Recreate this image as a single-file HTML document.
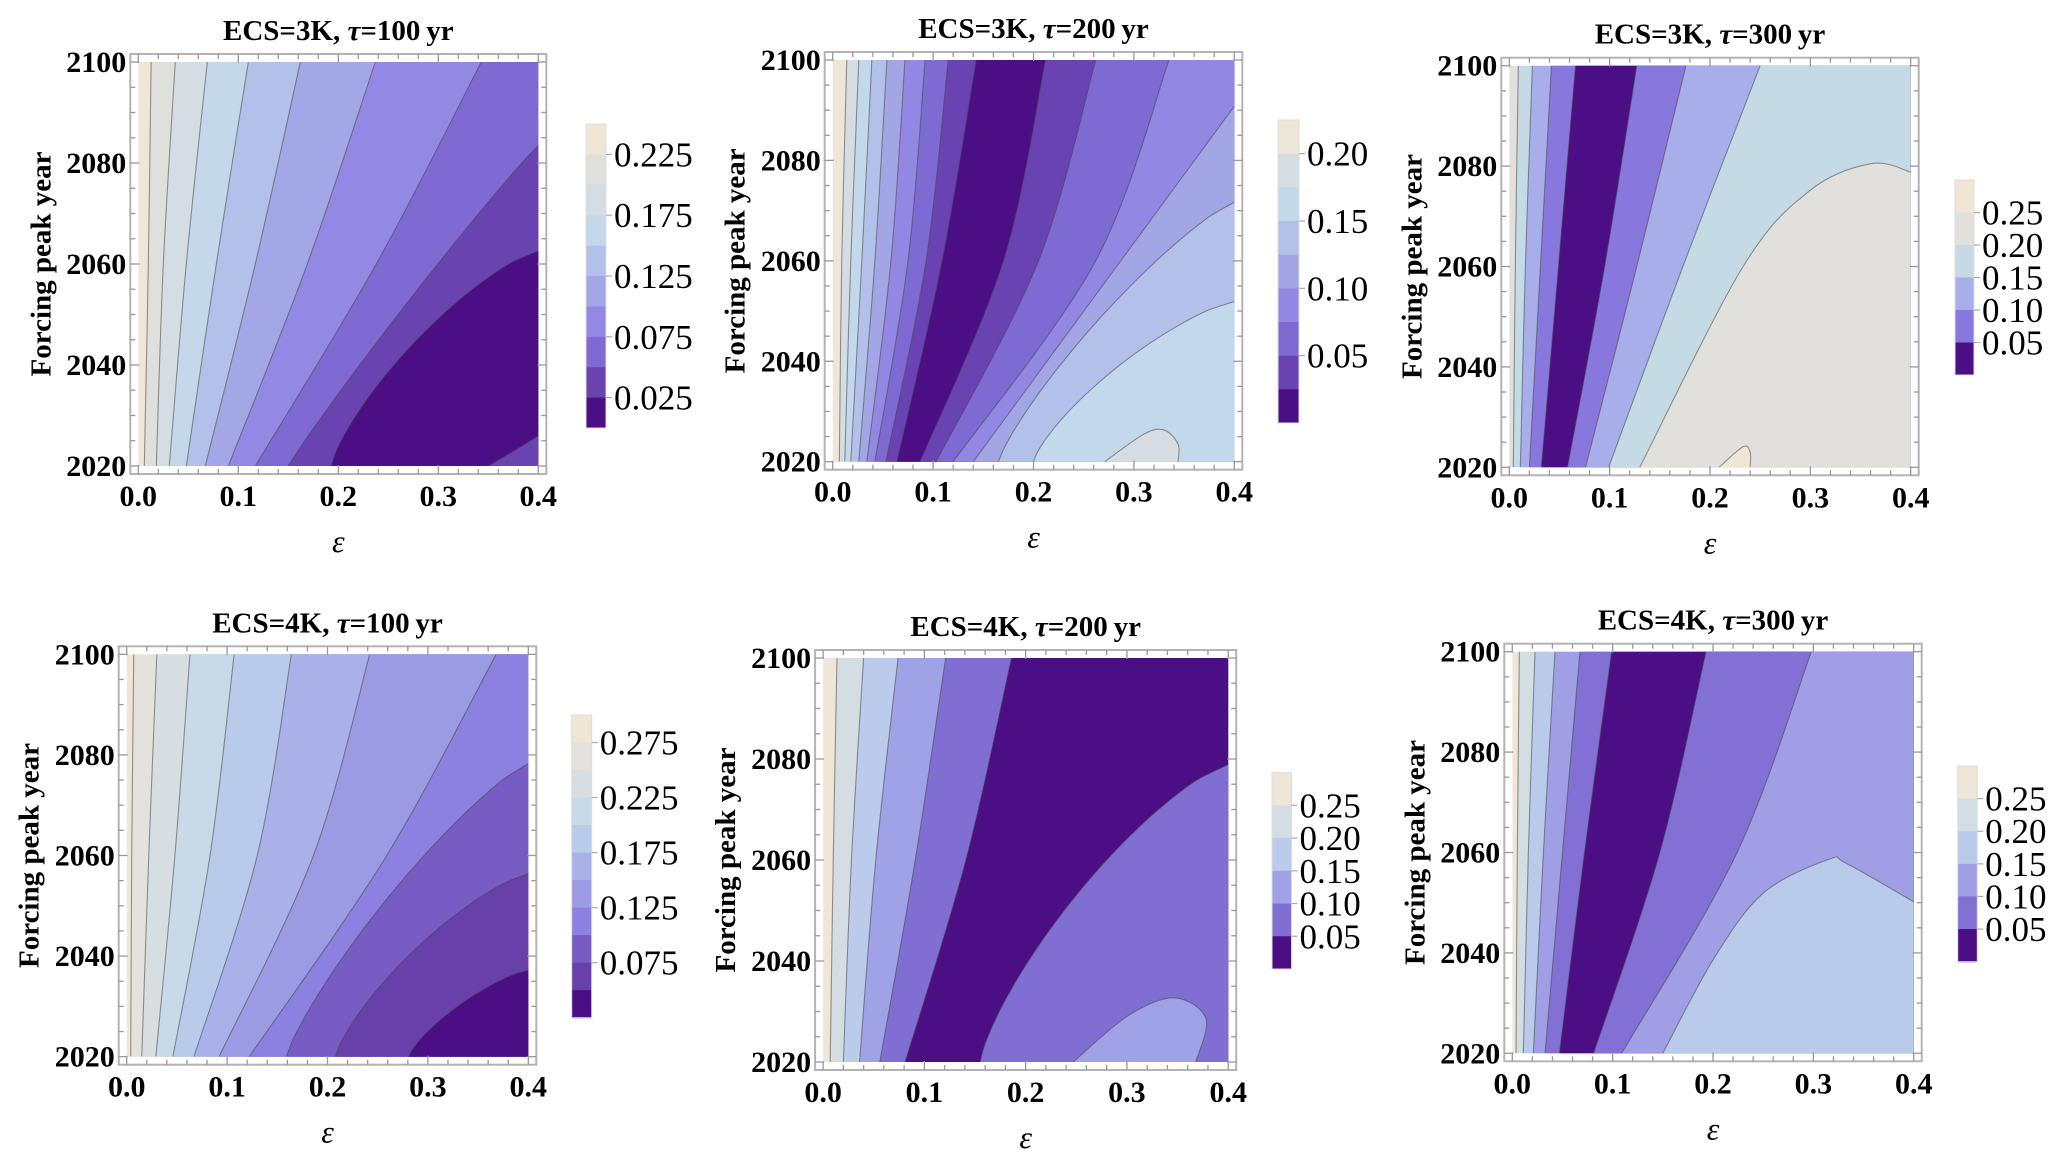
<!DOCTYPE html>
<html><head><meta charset="utf-8">
<style>
html,body{margin:0;padding:0;background:#fff;}
svg{display:block;}
text{font-family:"Liberation Serif","Times New Roman",serif;}
</style></head>
<body>
<svg id="fig" width="2067" height="1162" viewBox="0 0 2067 1162" xmlns="http://www.w3.org/2000/svg" font-family="Liberation Serif, Times New Roman, serif"></svg>
<script>
// ---------- data (eps values of contour boundaries; years) ----------
// Panel 1: ECS=3K, tau=100yr
const p1Palette = ['#EFE6D6','#DFDFDB','#D3DDE3','#C4D8EA','#B3C0EA','#A3A7E5','#9389E5','#7F6AD4','#6944B0','#4B0E84'];
const p1Top = [0.0128,0.037,0.069,0.11,0.162,0.237,0.343];
const p1Mid = [0.01,0.025,0.048,0.078,0.117,0.169,0.238];
const p1Bot = [0.006,0.018,0.031,0.048,0.067,0.09,0.117];
const p1Col = [1,2,3,4,5,6,7];
// curves from right edge (year) to bottom (eps)
const p1RbYear = [2083.5,2062.6];
const p1RbBot = [0.15,0.193];
const p1RbCol = [8,9];
const p1RbShape = [1.05,1.3];
const p1Extra = [[8,[[0.35,2020],[0.38,2023.5],[0.4,2026]]]];
const p1Ticks = ['0.225','0.175','0.125','0.075','0.025'];
const p1TickIdx = [1,3,5,7,9];
// Panel 2: ECS=3K, tau=200yr
const p2Palette = ['#EEE6D6','#D5DDE2','#C3D8EA','#B3C0EA','#A3A6E4','#9288E4','#7E6AD3','#6943B1','#4B0E84'];
const p2Top = [0.014,0.026,0.039,0.054,0.072,0.092,0.115,0.143,0.212,0.262,0.335];
const p2Mid = [0.009,0.018,0.029,0.042,0.058,0.075,0.093,0.109,0.17,0.205,0.262];
const p2Bot = [0.0066,0.012,0.018,0.026,0.034,0.042,0.053,0.064,0.087,0.103,0.12];
const p2Col = [1,2,3,4,5,6,7,8,7,6,5];
const p2RbYear = [2090.8,2071.7,2051.9];
const p2RbBot = [0.14,0.165,0.2];
const p2RbCol = [4,3,2];
const p2RbShape = [1.0,1.2,1.3];
const p2Extra = [[1,[[0.271,2020],[0.31,2025.5],[0.33,2026.3],[0.344,2023.5],[0.344,2020]]]];
const p2Ticks = ['0.20','0.15','0.10','0.05'];
const p2TickIdx = [1,3,5,7];
// Panel 3: ECS=3K, tau=300yr
const p3Palette = ['#EFE6D6','#E1E0DC','#C6DAE6','#A8AEE9','#8878DD','#4B0E84'];
const p3Top = [0.009,0.023,0.042,0.066,0.127,0.176,0.25];
const p3Mid = [0.006,0.016,0.031,0.049,0.095,0.127,0.173];
const p3Bot = [0.004,0.011,0.02,0.032,0.058,0.076,0.099];
const p3Col = [2,3,4,5,4,3,2];
const p3RbYear = [];
const p3RbBot = [];
const p3RbCol = [];
const p3RbShape = [];
const p3Extra = [[1,[[0.13,2020],[0.233,2060],[0.3,2075.2],[0.361,2080.5],[0.4,2078.8]]],[0,[[0.209,2020],[0.233,2024.1],[0.24,2023],[0.24,2020]]]];
const p3Ticks = ['0.25','0.20','0.15','0.10','0.05'];
const p3TickIdx = [1,2,3,4,5];
// Panel 4: ECS=4K, tau=100yr
const p4Palette = ['#EFE6D6','#E3E2DC','#D6DEE2','#C8D9E8','#BACAEB','#AAB0E8','#9B9BE3','#8C80E0','#785CC4','#6840AA','#4B0E84'];
const p4Top = [0.007,0.03,0.063,0.107,0.164,0.242,0.368];
const p4Mid = [0.005,0.022,0.048,0.083,0.13,0.186,0.259];
const p4Bot = [0.004,0.015,0.029,0.046,0.067,0.092,0.122];
const p4Col = [1,2,3,4,5,6,7];
const p4RbYear = [2078.3,2056.4,2037.2];
const p4RbBot = [0.159,0.208,0.281];
const p4RbCol = [8,9,10];
const p4RbShape = [1.2,1.3,1.3];
const p4Extra = [];
const p4Ticks = ['0.275','0.225','0.175','0.125','0.075'];
const p4TickIdx = [1,3,5,7,9];
// Panel 5: ECS=4K, tau=200yr
const p5Palette = ['#EEE6D6','#D3DDE2','#BCCBEC','#A0A2E8','#806ED3','#4B0E84'];
const p5Top = [0.0137,0.04,0.074,0.121,0.186];
const p5Mid = [0.01,0.028,0.052,0.091,0.141];
const p5Bot = [0.007,0.02,0.036,0.056,0.081];
const p5Col = [1,2,3,4,5];
const p5RbYear = [2078.9];
const p5RbBot = [0.155];
const p5RbCol = [4];
const p5RbShape = [1.3];
const p5Extra = [[3,[[0.247,2020],[0.30,2029],[0.346,2032.7],[0.378,2028.6],[0.368,2020]]]];
const p5Ticks = ['0.25','0.20','0.15','0.10','0.05'];
const p5TickIdx = [1,2,3,4,5];
// Panel 6: ECS=4K, tau=300yr
const p6Palette = ['#EEE6D6','#D3DEE3','#B9CAEB','#A09FE5','#8270D4','#4B0E84'];
const p6Top = [0.007,0.0226,0.0425,0.0674,0.099,0.193,0.298];
const p6Mid = [0.005,0.016,0.031,0.05,0.072,0.147,0.224];
const p6Bot = [0.0037,0.011,0.021,0.0326,0.047,0.081,0.109];
const p6Col = [1,2,3,4,5,4,3];
const p6RbYear = [];
const p6RbBot = [];
const p6RbCol = [];
const p6RbShape = [];
const p6Extra = [[2,[[0.15,2020],[0.2,2038.6],[0.25,2051.9],[0.315,2058.6],[0.333,2057.8],[0.4,2050.2]]]];
const p6Ticks = ['0.25','0.20','0.15','0.10','0.05'];
const p6TickIdx = [1,2,3,4,5];

const xTickLabels = ['0.0','0.1','0.2','0.3','0.4'];
const xTickValues = [0,0.1,0.2,0.3,0.4];
const yTickValues = [2020,2040,2060,2080,2100];

// ---------- layout ----------
const panels = [
 {ecs:'3',tau:'100',pal:p1Palette,top:p1Top,mid:p1Mid,bot:p1Bot,col:p1Col,rbY:p1RbYear,rbB:p1RbBot,rbC:p1RbCol,rbQ:p1RbShape,extra:p1Extra,ticks:p1Ticks,tickIdx:p1TickIdx,x0:138.3,x1:538.3,yT:62,yB:466,cx0:586,cx1:606,cy0:124,cy1:428},
 {ecs:'3',tau:'200',pal:p2Palette,top:p2Top,mid:p2Mid,bot:p2Bot,col:p2Col,rbY:p2RbYear,rbB:p2RbBot,rbC:p2RbCol,rbQ:p2RbShape,extra:p2Extra,ticks:p2Ticks,tickIdx:p2TickIdx,x0:832.7,x1:1234.3,yT:60,yB:461.7,cx0:1278,cx1:1299,cy0:120,cy1:423},
 {ecs:'3',tau:'300',pal:p3Palette,bg:1,top:p3Top,mid:p3Mid,bot:p3Bot,col:p3Col,rbY:p3RbYear,rbB:p3RbBot,rbC:p3RbCol,rbQ:p3RbShape,extra:p3Extra,ticks:p3Ticks,tickIdx:p3TickIdx,x0:1509.3,x1:1910.7,yT:65.7,yB:467.3,cx0:1955,cx1:1974,cy0:180,cy1:375},
 {ecs:'4',tau:'100',pal:p4Palette,top:p4Top,mid:p4Mid,bot:p4Bot,col:p4Col,rbY:p4RbYear,rbB:p4RbBot,rbC:p4RbCol,rbQ:p4RbShape,extra:p4Extra,ticks:p4Ticks,tickIdx:p4TickIdx,x0:126.7,x1:528.3,yT:654.3,yB:1056.7,cx0:571.7,cx1:591.7,cy0:715,cy1:1017.7},
 {ecs:'4',tau:'200',pal:p5Palette,top:p5Top,mid:p5Mid,bot:p5Bot,col:p5Col,rbY:p5RbYear,rbB:p5RbBot,rbC:p5RbCol,rbQ:p5RbShape,extra:p5Extra,ticks:p5Ticks,tickIdx:p5TickIdx,x0:823.1,x1:1228.2,yT:658,yB:1062,cx0:1272,cx1:1291.5,cy0:772.6,cy1:969},
 {ecs:'4',tau:'300',pal:p6Palette,top:p6Top,mid:p6Mid,bot:p6Bot,col:p6Col,rbY:p6RbYear,rbB:p6RbBot,rbC:p6RbCol,rbQ:p6RbShape,extra:p6Extra,ticks:p6Ticks,tickIdx:p6TickIdx,x0:1512.3,x1:1913.7,yT:651.7,yB:1053.3,cx0:1957.7,cx1:1977.3,cy0:766,cy1:961.7}
];

const NS='http://www.w3.org/2000/svg';
const svg=document.getElementById('fig');
const FONT='Liberation Serif, Times New Roman, serif';
function mk(tag,attrs,parent){const e=document.createElementNS(NS,tag);for(const k in attrs)e.setAttribute(k,attrs[k]);(parent||svg).appendChild(e);return e;}
function sx(p,e){return p.x0+(e/0.4)*(p.x1-p.x0);}
function sy(p,y){return p.yB-(y-2020)/80*(p.yB-p.yT);}
function spline(pts){
  let d='M'+pts[0][0].toFixed(2)+','+pts[0][1].toFixed(2);
  const n=pts.length;
  for(let i=0;i<n-1;i++){
    const a=pts[Math.max(i-1,0)],b=pts[i],c=pts[i+1],e=pts[Math.min(i+2,n-1)];
    const c1x=b[0]+(c[0]-a[0])/6,c1y=b[1]+(c[1]-a[1])/6;
    const c2x=c[0]-(e[0]-b[0])/6,c2y=c[1]-(e[1]-b[1])/6;
    d+=' C'+c1x.toFixed(2)+','+c1y.toFixed(2)+' '+c2x.toFixed(2)+','+c2y.toFixed(2)+' '+c[0].toFixed(2)+','+c[1].toFixed(2);
  }
  return d;
}
function rbPoints(p,yr,b,q){
  const pts=[];
  for(let k=20;k>=0;k--){
    const t=k/20;
    const e=0.4-(0.4-b)*Math.pow(1-Math.pow(t,q),1/q);
    pts.push([sx(p,e),sy(p,2020+(yr-2020)*t)]);
  }
  return pts;
}

panels.forEach((p,pi)=>{
  const g=mk('g',{});
  
  
  const clip=mk('clipPath',{id:'clip'+pi},g);
  mk('rect',{x:p.x0,y:p.yT,width:p.x1-p.x0,height:p.yB-p.yT},clip);
  const plot=mk('g',{'clip-path':'url(#clip'+pi+')'},g);
  
  
  const bgR=mk('rect',{x:p.x0,y:p.yT,width:p.x1-p.x0,height:p.yB-p.yT,fill:p.pal[p.bg||0]},plot);
  
  
  const X2=p.x1+30,YB2=p.yB+30,YT2=p.yT-30;
  const lines=[];
  for(let i=0;i<p.top.length;i++){
    const pts=[[sx(p,p.top[i]),sy(p,2100)],[sx(p,p.mid[i]),sy(p,2060)],[sx(p,p.bot[i]),sy(p,2020)]];
    const c=spline(pts);
    const reg=mk('path',{d:c+' L'+X2+','+YB2+' L'+X2+','+YT2+' Z',fill:p.pal[p.col[i]]},plot);
    
    
    lines.push(c);
  }
  for(let i=0;i<p.rbY.length;i++){
    const c=spline(rbPoints(p,p.rbY[i],p.rbB[i],p.rbQ[i]));
    const reg=mk('path',{d:c+' L'+X2+','+YB2+' Z',fill:p.pal[p.rbC[i]]},plot);
    
    
    lines.push(c);
  }
  p.extra.forEach((ex,j)=>{
    const pts=ex[1].map(q=>[sx(p,q[0]),sy(p,q[1])]);
    const c=spline(pts);
    const reg=mk('path',{d:c+' L'+X2+','+YB2+' Z',fill:p.pal[ex[0]]},plot);
    
    
    lines.push(c);
  });
  lines.forEach(c=>{
    const l=mk('path',{d:c,fill:'none',stroke:'rgba(70,70,70,0.55)','stroke-width':1.1},plot);
    
    
  });
  const fl=p.x0-8,fr=p.x1+8,ft=p.yT-8,fb=p.yB+8;
  const fr1=mk('rect',{x:fl,y:ft,width:fr-fl,height:fb-ft,fill:'none',stroke:'#b4b4b4','stroke-width':2},g);
  
  
  for(let k=0;k<=20;k++){
    const x=sx(p,k*0.02),len=(k%5===0)?9:5;
    mk('line',{x1:x,y1:fb,x2:x,y2:fb-len,stroke:'#999','stroke-width':1.3},g);
    mk('line',{x1:x,y1:ft,x2:x,y2:ft+len,stroke:'#999','stroke-width':1.3},g);
  }
  for(let k=0;k<=16;k++){
    const y=sy(p,2020+k*5),len=(k%4===0)?9:5;
    mk('line',{x1:fl,y1:y,x2:fl+len,y2:y,stroke:'#999','stroke-width':1.3},g);
    mk('line',{x1:fr,y1:y,x2:fr-len,y2:y,stroke:'#999','stroke-width':1.3},g);
  }
  xTickLabels.forEach((t,k)=>{
    const tx=mk('text',{x:sx(p,xTickValues[k]),y:fb+32,'text-anchor':'middle','font-size':30,'font-weight':'bold','font-family':FONT},g);
    tx.textContent=t;
    
    
  });
  yTickValues.forEach(v=>{
    const ty=mk('text',{x:fl-4,y:sy(p,v)+10,'text-anchor':'end','font-size':30,'font-weight':'bold','font-family':FONT},g);
    ty.textContent=String(v);
    
    
  });
  const cx=(p.x0+p.x1)/2;
  const title=mk('text',{x:cx,y:ft-14,'text-anchor':'middle','font-size':29,'font-weight':'bold','font-family':FONT},g);
  title.innerHTML='ECS='+p.ecs+'K, <tspan font-style="italic">τ</tspan>='+p.tau+'\u2009yr';
  
  
  const xl=mk('text',{x:cx,y:fb+78,'text-anchor':'middle','font-size':32,'font-style':'italic','font-family':FONT},g);
  xl.textContent='ε';
  
  
  const ycy=(p.yT+p.yB)/2,ylx=p.x0-88;
  const yl=mk('text',{x:ylx,y:ycy,'text-anchor':'middle','font-size':29,'font-weight':'bold','font-family':FONT,transform:'rotate(-90 '+ylx+' '+ycy+')'},g);
  yl.textContent='Forcing peak year';
  
  
  const cb=mk('g',{},g);
  
  
  const n=p.pal.length,h=(p.cy1-p.cy0)/n;
  for(let k=0;k<n;k++){
    const r=mk('rect',{x:p.cx0,y:p.cy0+k*h,width:p.cx1-p.cx0,height:h+0.5,fill:p.pal[k]},cb);
    
    
  }
  mk('rect',{x:p.cx0,y:p.cy0,width:p.cx1-p.cx0,height:p.cy1-p.cy0,fill:'none',stroke:'#ddd','stroke-width':1},cb);
  p.ticks.forEach((t,k)=>{
    const y=p.cy0+p.tickIdx[k]*h;
    mk('line',{x1:p.cx1,y1:y,x2:p.cx1+6,y2:y,stroke:'#aaa','stroke-width':1.2},cb);
    const tl=mk('text',{x:p.cx1+8,y:y+12,'font-size':35,'font-family':FONT},cb);
    tl.textContent=t;
    
    
  });
});
</script>
</body></html>
